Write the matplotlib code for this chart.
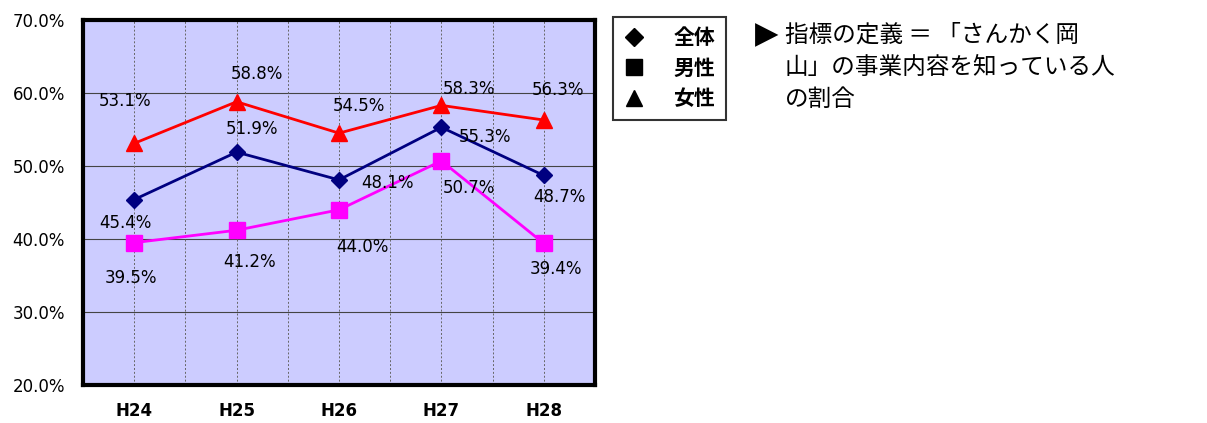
import matplotlib
matplotlib.use("Agg")
import matplotlib.pyplot as plt
from matplotlib.lines import Line2D

plt.rcParams['font.family'] = ['Noto Sans CJK JP', 'DejaVu Sans']

categories = ["H24", "H25", "H26", "H27", "H28"]
overall = [45.4, 51.9, 48.1, 55.3, 48.7]
male = [39.5, 41.2, 44.0, 50.7, 39.4]
female = [53.1, 58.8, 54.5, 58.3, 56.3]
yticks = [20, 30, 40, 50, 60, 70]
legend_labels = ["全体", "男性", "女性"]

# label offsets in pixels (dx, dy)
off_female = [(-9, 42), (20, 28), (20, 27), (28, 16), (14, 30)]
off_overall = [(-9, -23), (15, 23), (48, -3), (44, -10), (16, -22)]
off_male = [(-3, -35), (13, -32), (23, -37), (28, -27), (12, -26)]

fig = plt.figure(figsize=(12.07, 4.23), dpi=100)
ax = fig.add_axes([83/1207, 1-385/423, 512/1207, 365/423])
ax.set_facecolor("#CCCCFF")
x = list(range(len(categories)))

ax.set_xlim(-0.5, 4.5)
ax.set_ylim(20, 70)
ax.set_yticks(yticks)
ax.set_yticklabels([f"{v:.1f}%" for v in yticks], family="DejaVu Sans", fontsize=12)
ax.set_xticks(x)
ax.set_xticklabels(categories, family="DejaVu Sans", fontsize=12, fontweight="bold")
ax.tick_params(axis='x', length=0, pad=12)
ax.tick_params(axis='y', length=0, pad=13)
for i in yticks[1:-1]:
    ax.axhline(i, color="#444444", lw=0.8, zorder=1)
for v in [0, 0.5, 1, 1.5, 2, 2.5, 3, 3.5, 4]:
    ax.axvline(v, color="#666666", lw=0.7, ls=(0, (2, 2)), zorder=1)
for s in ax.spines.values():
    s.set_linewidth(3)
    s.set_color("black")

ax.plot(x, female, color="#FF0000", lw=2, marker="^", ms=11, zorder=3)
ax.plot(x, overall, color="#000080", lw=2, marker="D", ms=8, zorder=3)
ax.plot(x, male, color="#FF00FF", lw=2, marker="s", ms=11, zorder=3)

for vals, offs in [(female, off_female), (overall, off_overall), (male, off_male)]:
    for xi, v, (dx, dy) in zip(x, vals, offs):
        ax.annotate(f"{v:.1f}%", (xi, v), xytext=(dx, dy), textcoords="offset pixels",
                    ha="center", va="center", fontsize=12, family="DejaVu Sans", zorder=4)

handles = [Line2D([], [], ls="none", marker=m, color="black", ms=s)
           for m, s in [("D", 9), ("s", 11), ("^", 12)]]
leg = fig.legend(handles, legend_labels, loc="upper left",
                 bbox_to_anchor=(613/1207, 1-17/423), frameon=True, fancybox=False,
                 edgecolor="black", prop={"family": ["Noto Sans CJK JP"], "size": 15, "weight": "bold"},
                 handlelength=1.0, handletextpad=1.4, labelspacing=0.45, borderpad=0.5,
                 borderaxespad=0)
leg.get_frame().set_linewidth(1.5)

fig.text(755/1207, 1-35/423, "▶", fontsize=22, va="center", ha="left", family=["DejaVu Sans"])
lines = ["指標の定義 ＝ 「さんかく岡", "山」の事業内容を知っている人", "の割合"]
for i, t in enumerate(lines):
    fig.text(785/1207, 1-(35+32*i)/423, t, fontsize=17, va="center", ha="left")

fig.savefig("out.png", dpi=100)
